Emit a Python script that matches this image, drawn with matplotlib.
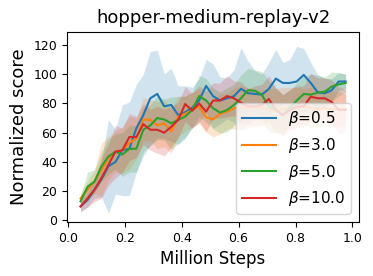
import matplotlib
matplotlib.use('Agg')
import matplotlib.pyplot as plt
import numpy as np

# Evaluation steps (million)
steps = [0.045, 0.0695, 0.094, 0.1185, 0.143, 0.1675, 0.192, 0.2165, 0.241, 0.2655,
         0.29, 0.3145, 0.339, 0.3635, 0.388, 0.4125, 0.437, 0.4615, 0.486, 0.5105,
         0.535, 0.5595, 0.584, 0.6085, 0.633, 0.6575, 0.682, 0.7065, 0.731, 0.7555,
         0.78, 0.8045, 0.829, 0.8535, 0.878, 0.9025, 0.927, 0.9515, 0.976]

labels = [r'$\beta$=0.5', r'$\beta$=3.0', r'$\beta$=5.0', r'$\beta$=10.0']
colors = ['#1f77b4', '#ff7f0e', '#2ca02c', '#d62728']

mean_b05 = [9.6, 14, 21, 28, 37, 40, 48, 49, 63, 72, 83.5, 86.5, 78, 79, 72, 74, 77, 82, 92, 85,
            82, 83.5, 85, 90, 87, 86.5, 86, 90, 97, 94, 94, 95, 99.5, 94, 87.6, 87, 89, 95, 95]
std_b05 = [3, 5, 6, 12, 32, 22, 31, 32, 30, 28, 32, 30, 22, 25, 20, 18, 14, 15, 18, 22,
           16, 14, 18, 28, 22, 16, 14, 18, 20, 14, 16, 24, 18, 14, 12, 10, 8, 6, 5]

mean_b3 = [15, 21, 26.6, 34.6, 42.5, 47, 48, 53, 56, 69, 68.7, 65, 66.4, 60.8, 71, 73, 75.5, 78, 70.5, 69,
           73, 74.4, 76.7, 77, 77, 77, 77, 76, 75, 76, 77, 77, 78, 77, 76, 77, 76, 76, 76]
std_b3 = [4, 6, 8, 18, 15, 14, 16, 18, 14, 15, 14, 16, 16, 15, 14, 12, 12, 12, 10, 12,
          14, 12, 14, 15, 14, 12, 12, 14, 15, 15, 14, 14, 12, 14, 12, 12, 12, 12, 10]

mean_b5 = [13, 23, 26.6, 37, 43.7, 47, 45, 49, 49, 62, 65, 70, 69, 66.4, 68.7, 71, 75.5, 85, 82, 76.7,
           73.7, 75.5, 79, 83.5, 89, 88.7, 85.8, 77.8, 75.5, 72, 77, 82, 86.5, 86, 87.4, 88, 91.5, 93, 94]
std_b5 = [4, 10, 8, 10, 12, 12, 15, 16, 16, 15, 14, 15, 14, 18, 16, 14, 12, 14, 15, 14,
          14, 15, 14, 16, 15, 14, 16, 18, 15, 14, 12, 12, 12, 14, 12, 10, 10, 8, 6]

mean_b10 = [9.6, 15, 21, 29, 38, 47, 48, 57, 57, 65.8, 62, 62, 60, 64, 68.7, 79.6, 75, 80, 74.4, 82,
            82, 85, 83.5, 80.5, 78, 78, 79, 83, 75.5, 72, 75.5, 78, 78, 84.6, 83.5, 83.5, 81, 75.5, 75.5]
std_b10 = [4, 6, 8, 14, 14, 18, 15, 16, 14, 14, 14, 16, 16, 14, 12, 12, 12, 12, 14, 12,
           12, 14, 12, 14, 12, 14, 14, 16, 15, 14, 14, 14, 14, 16, 14, 14, 15, 16, 14]

means = [mean_b05, mean_b3, mean_b5, mean_b10]
stds = [std_b05, std_b3, std_b5, std_b10]

fig = plt.figure(figsize=(3.73, 2.76), dpi=100)
ax = fig.add_axes([0.18, 0.196, 0.7825, 0.689])

x = np.array(steps)
for m, s, lab, c in zip(means, stds, labels, colors):
    m = np.array(m)
    s = np.array(s)
    ax.plot(x, m, color=c, lw=1.5, label=lab)
    ax.fill_between(x, m - s, m + s, color=c, alpha=0.2, lw=0)

ax.set_xlim(-0.002, 1.023)
ax.set_ylim(-1, 129)
ax.set_xticks([0.0, 0.2, 0.4, 0.6, 0.8, 1.0])
ax.set_yticks([0, 20, 40, 60, 80, 100, 120])
ax.tick_params(labelsize=9)
ax.set_title('hopper-medium-replay-v2', fontsize=13)
ax.set_xlabel('Million Steps', fontsize=12)
ax.set_ylabel('Normalized score', fontsize=13)
ax.legend(loc='lower right', fontsize=11, handlelength=2.2)

fig.savefig('out.png', dpi=100)
